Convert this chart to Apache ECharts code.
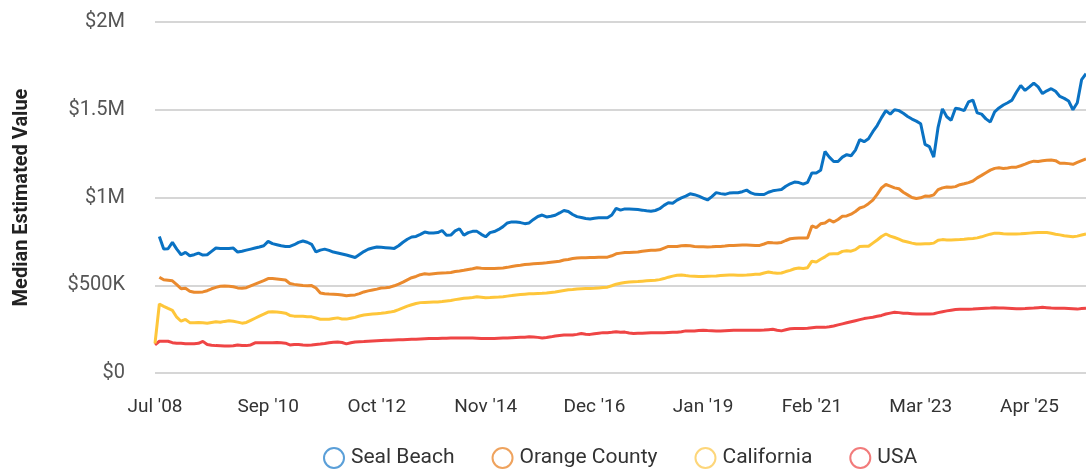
<!DOCTYPE html>
<html>
<head>
<meta charset="utf-8">
<script src="https://cdn.jsdelivr.net/npm/echarts@6/dist/echarts.min.js"></script>
<style>html,body{margin:0;padding:0;background:#fff;}#c{width:1086px;height:470px;}</style>
</head>
<body>
<div id="c"></div>
<script>
// Monthly from Jul 2008; values in $K
const startYear = 2008, startMonth = 6, monthCount = 215;
const seriesNames = ['Seal Beach', 'Orange County', 'California', 'USA'];
const xTickLabels = ["Jul '08", "Sep '10", "Oct '12", "Nov '14", "Dec '16", "Jan '19", "Feb '21", "Mar '23", "Apr '25"];
const yTicks = [0, 500, 1000, 1500, 2000];
const yTickLabels = ['$0', '$500K', '$1M', '$1.5M', '$2M'];

const sealBeach = [null,778,706,708,744,706,674,687,668,674,683,672,674,693,712,710,710,710,712,689,
694,700,706,712,718,725,750,737,731,725,721,721,731,744,752,745,733,690,700,706,
699,689,684,678,672,665,658,675,692,705,712,718,716,714,712,710,725,745,762,775,
778,790,803,798,798,800,812,785,786,810,822,785,800,807,807,790,776,800,806,818,
834,855,861,861,857,851,855,875,892,900,889,893,899,912,926,920,903,891,886,880,
878,882,884,884,884,900,938,928,935,934,933,931,928,924,922,926,936,955,970,967,
985,998,1008,1021,1016,1008,997,986,1005,1028,1022,1018,1025,1027,1027,1033,1042,1026,1018,1017,
1017,1030,1038,1042,1046,1064,1078,1088,1085,1076,1086,1140,1140,1155,1262,1230,1205,1205,1230,1244,
1238,1270,1330,1318,1335,1375,1410,1455,1495,1475,1500,1495,1480,1462,1447,1435,1420,1303,1290,1230,
1400,1505,1460,1440,1508,1504,1495,1545,1555,1482,1475,1448,1430,1488,1510,1527,1540,1555,1600,1638,
1610,1630,1652,1630,1592,1608,1620,1605,1576,1565,1550,1500,1540,1672,1705];

const orangeCounty = [null,546,531,528,525,504,480,483,466,460,460,462,469,480,488,494,496,494,491,485,
483,486,496,506,516,526,538,538,536,533,530,510,505,502,498,497,498,484,456,452,
450,449,447,444,440,443,445,452,462,468,473,478,484,486,489,497,507,518,531,543,
550,560,565,563,566,569,570,571,573,578,581,585,590,594,600,597,595,595,596,597,
598,602,607,611,614,618,620,622,624,626,628,631,634,637,644,647,652,655,656,657,
658,658,659,659,660,668,679,683,686,687,688,689,694,697,699,700,702,712,721,721,
721,725,727,725,721,720,719,718,719,721,721,723,726,727,728,729,729,728,727,727,
735,744,742,741,744,755,765,768,769,769,769,838,828,850,855,872,860,875,893,895,
905,920,940,948,965,985,1018,1055,1074,1065,1055,1050,1030,1015,1000,994,998,1008,1007,1015,
1045,1055,1060,1058,1062,1073,1078,1085,1094,1112,1126,1141,1156,1166,1169,1165,1168,1173,1173,1181,
1190,1200,1207,1205,1209,1212,1214,1210,1195,1195,1193,1189,1200,1210,1220];

const california = [168,393,380,368,357,318,295,305,287,286,288,286,284,288,292,289,294,298,295,290,
284,288,300,312,324,335,347,349,348,345,341,328,324,324,324,321,320,313,306,306,
306,310,314,308,307,312,317,325,330,333,336,338,340,343,347,352,361,371,381,389,
396,401,402,403,404,405,407,410,413,418,422,426,428,430,434,432,429,430,432,433,
435,438,441,445,447,449,451,452,453,454,456,459,462,466,470,474,476,479,480,481,
482,483,485,487,489,497,506,511,516,518,520,521,523,525,527,529,532,538,546,552,
557,559,555,552,551,550,550,551,552,553,555,557,559,558,557,557,558,560,562,563,
570,575,571,569,570,578,585,594,598,595,600,637,633,648,662,678,680,680,693,697,
694,703,721,722,722,740,758,778,792,780,772,763,752,746,740,735,735,736,737,740,
757,760,758,758,759,760,762,765,767,770,776,784,791,797,796,793,792,792,792,793,
795,797,799,800,801,800,796,791,787,782,779,776,780,786,792];

const usa = [160,181,181,181,173,170,169,167,166,167,169,180,162,158,156,155,154,154,155,160,
157,156,160,172,172,172,172,173,174,172,170,160,163,163,160,158,160,163,165,168,
172,175,176,174,166,172,177,178,179,181,183,184,185,186,187,188,189,190,191,192,
193,194,195,196,196,197,198,198,199,199,200,200,200,199,198,197,197,197,197,198,
199,200,201,202,203,204,206,205,203,200,202,206,211,214,216,216,216,220,225,221,
220,224,227,230,230,232,235,232,233,228,225,226,227,228,229,229,230,230,231,232,
232,235,240,239,239,242,244,242,241,240,240,241,242,243,244,244,244,244,244,244,
245,247,249,244,240,246,252,254,254,254,255,258,260,260,260,263,268,274,280,286,
292,298,304,310,314,318,323,328,336,341,346,344,341,340,338,336,336,336,336,338,
344,349,354,358,362,363,363,363,364,366,368,369,370,372,371,370,369,368,366,366,
367,369,370,372,374,372,370,369,369,369,368,366,364,367,369];

const colors = ['#0a72c3', '#ea8a2e', '#fec63a', '#ef4545'];
const legendBorders = ['#5a9fd8', '#efa35e', '#fdd67a', '#f27b7b'];

const monthNames = ['Jan','Feb','Mar','Apr','May','Jun','Jul','Aug','Sep','Oct','Nov','Dec'];
const categories = [];
for (let i = 0; i < monthCount; i++) {
  const m = (startMonth + i) % 12;
  const y = startYear + Math.floor((startMonth + i) / 12);
  categories.push(monthNames[m] + " '" + String(y % 100).padStart(2, '0'));
}

const dataSets = [sealBeach, orangeCounty, california, usa];
const chart = echarts.init(document.getElementById('c'), null, {renderer: 'canvas'});
const font = 'Roboto, "Noto Sans", sans-serif';
chart.setOption({
  animation: false,
  backgroundColor: '#fff',
  grid: {left: 155, right: 0, top: 22, bottom: 97, containLabel: false, outerBoundsMode: 'none'},
  legend: {
    left: 318, top: 442, itemWidth: 20, itemHeight: 20, itemGap: 37,
    icon: 'circle',
    textStyle: {fontFamily: font, fontSize: 21, color: '#333', padding: [0, 0, 0, 2]},
    data: seriesNames.map((n, k) => ({name: n, itemStyle: {color: '#fff', borderColor: legendBorders[k], borderWidth: 2}}))
  },
  xAxis: {
    type: 'category', data: categories, boundaryGap: false,
    axisLine: {show: false}, axisTick: {show: false},
    axisLabel: {
      interval: (idx, val) => xTickLabels.indexOf(val) >= 0,
      fontFamily: font, fontSize: 19, color: '#333', margin: 25
    }
  },
  yAxis: {
    type: 'value', min: 0, max: 2000, interval: 500,
    name: 'Median Estimated Value', nameLocation: 'middle', nameGap: 123,
    nameTextStyle: {fontFamily: font, fontSize: 20, fontWeight: 'bold', color: '#222'},
    axisLine: {show: false}, axisTick: {show: false},
    axisLabel: {fontFamily: font, fontSize: 20, color: '#555', margin: 30,
      formatter: v => yTickLabels[yTicks.indexOf(v)]},
    splitLine: {lineStyle: {color: '#c8c8c8', width: 1.5}}
  },
  series: seriesNames.map((n, k) => ({
    name: n, type: 'line', data: dataSets[k], showSymbol: false, symbol: 'none',
    connectNulls: false, z: 10 - k,
    lineStyle: {color: colors[k], width: 3}, itemStyle: {color: colors[k]}
  }))
});
</script>
</body>
</html>
